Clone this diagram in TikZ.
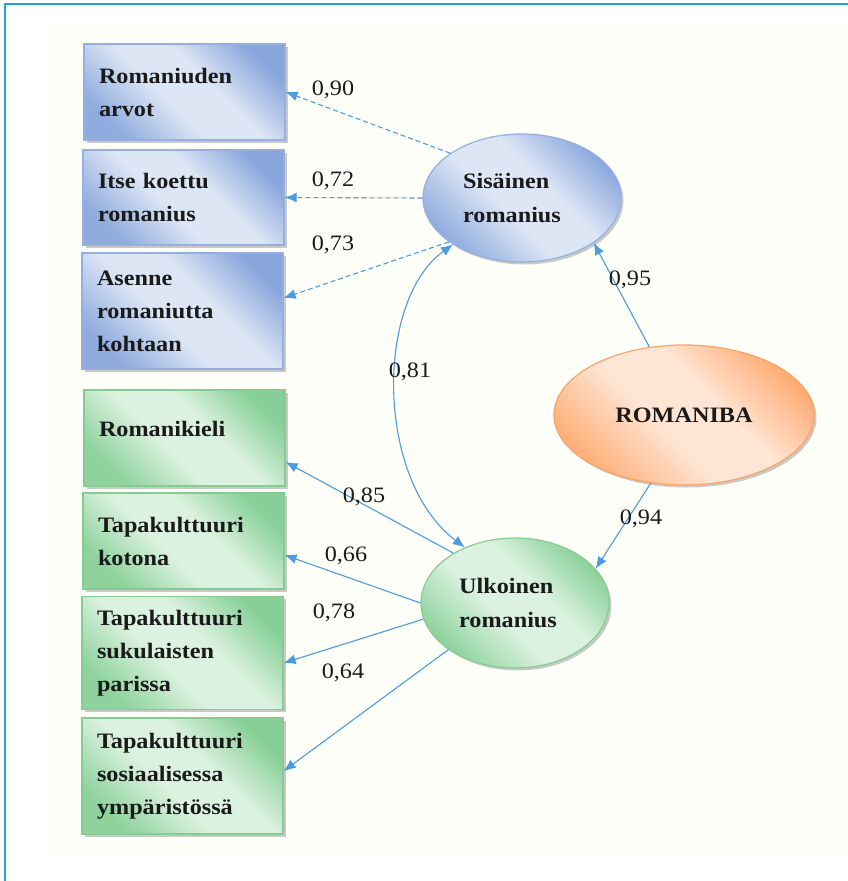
\documentclass[tikz,border=0pt]{standalone}
\usepackage{fontspec}
\setmainfont{Liberation Serif}[FakeStretch=1.1]
\usetikzlibrary{arrows.meta,shadows,shapes.geometric}
\definecolor{bdark}{HTML}{88A6DC}
\definecolor{blight}{HTML}{DDE6F5}
\definecolor{bborder}{HTML}{94AFE0}
\definecolor{gdark}{HTML}{86CF96}
\definecolor{glight}{HTML}{DCF2E0}
\definecolor{gborder}{HTML}{86CB92}
\definecolor{odark}{HTML}{FFAA70}
\definecolor{olight}{HTML}{FFE5D4}
\definecolor{oborder}{HTML}{F7A369}
\definecolor{arr}{HTML}{4A9BE0}
\definecolor{frame}{HTML}{1CA8DC}
\definecolor{cream}{HTML}{FFFFFA}
\definecolor{txt}{HTML}{1A1A1A}
\pgfdeclarehorizontalshading{blueshade}{100bp}{color(0bp)=(bdark!90!blight); color(25bp)=(bdark!90!blight); color(44bp)=(blight); color(58bp)=(blight); color(76bp)=(bdark); color(100bp)=(bdark)}
\pgfdeclarehorizontalshading{greenshade}{100bp}{color(0bp)=(gdark!90!glight); color(25bp)=(gdark!90!glight); color(44bp)=(glight); color(58bp)=(glight); color(76bp)=(gdark); color(100bp)=(gdark)}
\pgfdeclarehorizontalshading{orangeshade}{100bp}{color(0bp)=(odark!90!olight); color(25bp)=(odark!90!olight); color(44bp)=(olight); color(58bp)=(olight); color(76bp)=(odark); color(100bp)=(odark)}
\tikzset{
  shad/.style={drop shadow={shadow xshift=2.5pt,shadow yshift=-2.5pt,opacity=0.35,fill=black!60}},
  boxbase/.style={rectangle,minimum width=201pt,text width=171pt,inner xsep=15pt,inner ysep=2pt,align=left,
    font=\fontsize{22}{33}\selectfont\bfseries,text=txt,line width=1.2pt,shad,shading angle=45},
  bluebox/.style={boxbase,draw=bborder,shading=blueshade},
  greenbox/.style={boxbase,draw=gborder,shading=greenshade},
  ellbase/.style={ellipse,inner sep=0pt,align=left,font=\fontsize{22}{34}\selectfont\bfseries,text=txt,line width=1.2pt,shad,shading angle=45},
  lab/.style={font=\fontsize{22}{24}\selectfont,text=txt,inner sep=1pt},
  conn/.style={draw=arr,line width=1.1pt,-{Latex[length=12pt,width=10pt]}},
  dconn/.style={conn,dash pattern=on 5pt off 3pt}
}
\begin{document}
\begin{tikzpicture}[x=1pt,y=-1pt]
\useasboundingbox (0,0) rectangle (848,881);
\fill[cream] (48,22) rectangle (848,856);
\draw[frame,line width=1.5pt] (5,881) -- (5,4) -- (848,4);
% boxes
\node[bluebox,minimum height=96pt] (b1) at (184.5,92) {Romaniuden\\arvot};
\node[bluebox,minimum height=95pt] (b2) at (183.5,197.5) {Itse koettu\\romanius};
\node[bluebox,minimum height=116pt] (b3) at (182.5,311) {Asenne\\romaniutta\\kohtaan};
\node[greenbox,minimum height=96pt,text depth=19pt] (g1) at (184.5,438) {Romanikieli};
\node[greenbox,minimum height=96pt] (g2) at (183.5,541) {Tapakulttuuri\\kotona};
\node[greenbox,minimum height=113pt] (g3) at (182.5,653) {Tapakulttuuri\\sukulaisten\\parissa};
\node[greenbox,minimum height=116pt] (g4) at (182.5,776) {Tapakulttuuri\\sosiaalisessa\\ympäristössä};
% ellipses
\node[ellbase,draw=bborder,shading=blueshade,minimum width=198pt,minimum height=128pt] (sis) at (522,198) {Sisäinen\\romanius\hspace*{20pt}};
\node[ellbase,draw=gborder,shading=greenshade,minimum width=188pt,minimum height=130pt] (ulk) at (515,603) {Ulkoinen\\romanius\hspace*{14pt}};
\node[ellbase,draw=oborder,shading=orangeshade,minimum width=260pt,minimum height=140pt] (rom) at (684,415) {ROMANIBA};
% dashed arrows
\draw[dconn] (sis.148) -- (b1.east);
\draw[dconn] (sis.180) -- (b2.east);
\draw[dconn] (sis.211) -- ([yshift=13pt]b3.east);
% solid arrows
\draw[conn] (ulk.141) -- ([yshift=-24pt]g1.east);
\draw[conn] (ulk.180) -- ([yshift=-14pt]g2.east);
\draw[conn] (ulk.190) -- ([yshift=-10pt]g3.east);
\draw[conn] (ulk.215) -- ([yshift=5pt]g4.east);
\draw[conn] (rom.117) -- (sis.328);
\draw[conn] (rom.244) -- (ulk.23.6);
\draw[conn,{Latex[length=12pt,width=10pt]}-{Latex[length=12pt,width=10pt]}] (sis.214) .. controls (375,300) and (375,480) .. (ulk.132.6);
% labels
\node[lab] (l1) at (333,90) {0,90};
\node[lab] (l2) at (333,181) {0,72};
\node[lab] (l3) at (333,245) {0,73};
\node[lab] (l4) at (364,497) {0,85};
\node[lab] (l5) at (346,556) {0,66};
\node[lab] (l6) at (334,613) {0,78};
\node[lab] (l7) at (343,673) {0,64};
\node[lab] (l8) at (630,280) {0,95};
\node[lab] (l9) at (641,519) {0,94};
\node[lab] (l10) at (410,372) {0,81};
\end{tikzpicture}
\end{document}
